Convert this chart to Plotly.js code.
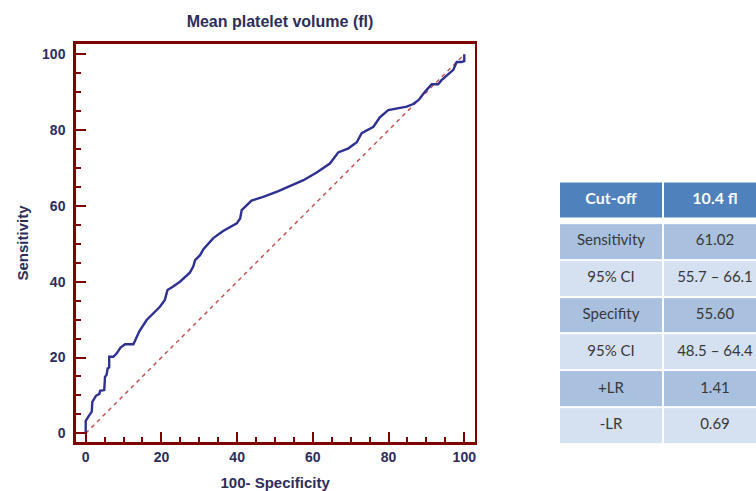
<!DOCTYPE html>
<html>
<head>
<meta charset="utf-8">
<script src="https://cdn.plot.ly/plotly-3.0.1.min.js"></script>
<style>html,body{margin:0;padding:0;background:#fff;overflow:hidden}</style>
</head>
<body>
<div id="chart" style="width:756px;height:491px"></div>
<script>
// ROC curve points (100 - specificity, sensitivity)
const fpr = [0,0,0.7,1.6,1.75,2.7,3.6,3.8,4.9,5.1,5.5,5.8,6.2,6.2,7.3,8.2,9.2,10.4,12.6,13.3,14.2,16.1,18.3,19.6,20.9,21.6,22.7,24.9,27.5,28.4,28.9,30.2,31.1,33.7,36.3,39.9,40.8,41.2,43.8,46.9,50.9,54.8,57.5,61,64.5,66.7,69.4,71.6,72.9,76,77.7,79.9,81.7,84.8,86.5,87.9,89.6,91.4,93.1,94,97.1,97.5,98,99.3,100,100];
const tpr = [0,3.3,4.4,5.7,8.3,9.9,10.4,11.2,11.4,14.9,15.4,17.1,17.4,20.2,20.2,21.1,22.6,23.5,23.5,25.1,27,29.9,32.1,33.4,35.2,37.8,38.5,40,42.4,44,45.7,47,48.6,51.5,53.4,55.4,56.7,58.9,61.4,62.4,63.9,65.5,66.8,68.8,71.2,74.1,75.2,76.8,79.2,80.9,83.4,85.3,85.6,86.2,86.9,87.9,90.1,92.1,92.1,93.2,95.9,96.7,98,98,98.2,100];
const diagX = [0, 100];
const diagY = [0, 100];

// Table contents
const headerLabels = ['Cut-off', '10.4 fl'];
const rowLabels = ['Sensitivity', '95% CI', 'Specifity', '95% CI', '+LR', '-LR'];
const rowValues = ['61.02', '55.7 – 66.1', '55.60', '48.5 – 64.4', '1.41', '0.69'];
const rowShade = [1, 0, 1, 0, 1, 0]; // 1 = darker band, 0 = lighter band

const frame = '#7f0000';
const navy = '#2d2d5c';
const font = 'Liberation Sans, Arial, sans-serif';
const tableFont = 'Lato, Liberation Sans, sans-serif';

// build table grid from the arrays
const colIdx = headerLabels.map((_, i) => i);
const rowIdx = rowLabels.map((_, i) => i + 1);
const bodyZ = rowShade.map(s => colIdx.map(() => s));
const textX = [], textY = [], textT = [];
rowLabels.forEach((lab, i) => {
  [lab, rowValues[i]].forEach((t, j) => { textX.push(j); textY.push(i + 1); textT.push(t); });
});
const headerOffset = -0.13; // header band sits a little higher, leaving a gap

const traces = [
  {
    type: 'scatter', mode: 'lines', x: diagX, y: diagY,
    line: {color: '#c25656', width: 1.5, dash: '4px,4px'},
    hoverinfo: 'skip', showlegend: false
  },
  {
    type: 'scatter', mode: 'lines', x: fpr, y: tpr,
    line: {color: '#2e3192', width: 2.4},
    showlegend: false
  },
  // table: header band
  {
    type: 'heatmap', xaxis: 'x2', yaxis: 'y2',
    x: colIdx, y: [headerOffset], z: [colIdx.map(() => 1)],
    colorscale: [[0, '#4f81bd'], [1, '#4f81bd']], zmin: 0, zmax: 1,
    showscale: false, xgap: 2, ygap: 2, hoverinfo: 'skip'
  },
  // table: body bands
  {
    type: 'heatmap', xaxis: 'x2', yaxis: 'y2',
    x: colIdx, y: rowIdx, z: bodyZ,
    colorscale: [[0, '#d5e0f0'], [1, '#a9c0df']], zmin: 0, zmax: 1,
    showscale: false, xgap: 2, ygap: 2, hoverinfo: 'skip'
  },
  // table: header text
  {
    type: 'scatter', mode: 'text', xaxis: 'x2', yaxis: 'y2',
    x: colIdx, y: colIdx.map(() => headerOffset), text: headerLabels.map(t => '<b>' + t + '</b>'),
    textposition: 'middle center',
    textfont: {family: tableFont, size: 16, color: '#ffffff'},
    hoverinfo: 'skip', showlegend: false
  },
  // table: body text
  {
    type: 'scatter', mode: 'text', xaxis: 'x2', yaxis: 'y2',
    x: textX, y: textY, text: textT,
    textposition: 'middle center',
    textfont: {family: tableFont, size: 15, color: '#383838'},
    hoverinfo: 'skip', showlegend: false
  }
];

const axisCommon = {
  showline: true, linecolor: frame, linewidth: 2.5, mirror: true,
  showgrid: false, zeroline: false,
  ticks: 'inside', ticklen: 10, tickwidth: 2, tickcolor: frame,
  tick0: 0, dtick: 20,
  minor: {dtick: 5, tick0: 0, ticks: 'inside', ticklen: 5, tickwidth: 2, tickcolor: frame},
  tickfont: {family: font, size: 14, weight: 'bold', color: navy},
  fixedrange: true
};

const hiddenAxis = {
  showline: false, showgrid: false, zeroline: false, showticklabels: false,
  ticks: '', fixedrange: true
};

const layout = {
  width: 756, height: 491,
  margin: {l: 0, r: 0, t: 0, b: 0},
  paper_bgcolor: '#ffffff', plot_bgcolor: 'rgba(0,0,0,0)',
  title: {
    text: 'Mean platelet volume (fl)',
    font: {family: font, size: 16, weight: 'bold', color: navy},
    x: 280/756, xanchor: 'center', y: 1 - 21/491, yanchor: 'middle'
  },
  xaxis: Object.assign({}, axisCommon, {
    domain: [75.75/756, 474.5/756],
    range: [-2.63, 102.7],
    title: {text: '100- Specificity', font: {family: font, size: 15, weight: 'bold', color: navy}, standoff: 15}
  }),
  yaxis: Object.assign({}, axisCommon, {
    domain: [(491 - 442.25)/491, (491 - 43.75)/491],
    range: [-2.36, 102.8],
    ticklabelstandoff: 5,
    title: {text: 'Sensitivity', font: {family: font, size: 15, weight: 'bold', color: navy}, standoff: 10}
  }),
  xaxis2: Object.assign({}, hiddenAxis, {
    domain: [559/756, 1], anchor: 'y2',
    range: [-0.5, -0.5 + (756 - 559) / 104]
  }),
  yaxis2: Object.assign({}, hiddenAxis, {
    domain: [(491 - 444)/491, (491 - 181.5)/491], anchor: 'x2',
    range: [6.5, -0.5 + headerOffset]
  }),
  showlegend: false
};

Plotly.newPlot('chart', traces, layout, {displayModeBar: false, staticPlot: true});
</script>
</body>
</html>
